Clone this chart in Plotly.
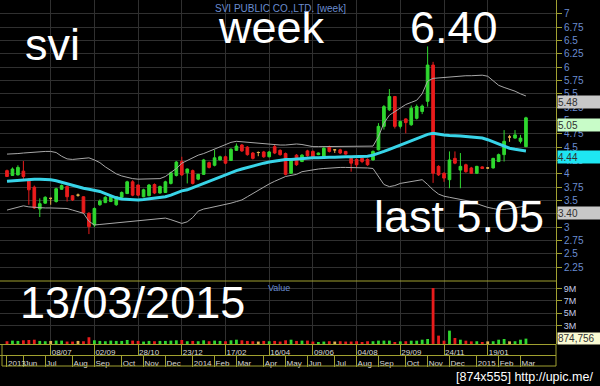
import plotly.graph_objects as go
import pandas as pd

# ---------------- data ----------------
open_ = [4.06,3.97,3.98,4.05,3.90,3.75,3.34,3.45,3.54,3.48,
         3.71,3.76,3.59,3.60,3.57,3.26,3.04,3.42,3.46,3.48,
         3.42,3.56,3.63,3.85,3.79,3.57,3.59,3.80,3.64,3.65,
         3.82,3.97,4.23,4.02,4.06,3.90,3.99,4.21,4.16,4.26,
         4.32,4.25,4.44,4.54,4.50,4.39,4.40,4.41,4.32,4.51,
         4.44,4.38,4.01,4.35,4.23,4.43,4.42,4.36,4.33,4.51,
         4.45,4.45,4.42,4.29,4.27,4.29,4.27,4.26,4.45,4.89,
         5.20,5.45,4.89,5.03,4.92,5.04,5.17,5.36,6.04,4.14,
         4.01,3.89,4.29,4.07,4.17,4.11,4.01,4.13,4.11,4.11,
         4.23,4.36,4.69,4.67,4.61,4.51]
high = [4.08,4.12,4.16,4.24,3.92,3.78,3.54,3.58,3.55,3.74,
        3.80,3.78,3.60,3.63,3.58,3.28,3.37,3.52,3.58,3.60,
        3.58,3.67,3.87,3.88,3.80,3.72,3.81,3.82,3.78,3.87,
        4.04,4.24,4.32,4.10,4.08,4.00,4.28,4.23,4.45,4.34,
        4.34,4.48,4.57,4.56,4.52,4.41,4.42,4.43,4.43,4.55,
        4.46,4.40,4.29,4.37,4.37,4.45,4.44,4.40,4.50,4.53,
        4.46,4.47,4.43,4.31,4.29,4.31,4.29,4.44,4.95,5.29,
        5.59,5.46,5.00,5.04,5.28,5.30,5.30,6.39,6.10,4.16,
        4.03,4.42,4.42,4.39,4.19,4.13,4.15,4.14,4.12,4.30,
        4.38,4.82,4.73,4.82,4.73,5.07]
low = [3.94,3.96,3.97,3.88,3.42,3.34,3.19,3.44,3.42,3.46,
       3.70,3.48,3.49,3.57,3.25,2.87,3.00,3.40,3.45,3.47,
       3.40,3.55,3.62,3.58,3.58,3.56,3.58,3.62,3.63,3.64,
       3.80,3.95,3.96,3.82,3.80,3.88,3.98,4.10,4.14,4.25,
       4.18,4.24,4.43,4.41,4.34,4.27,4.33,4.30,4.31,4.37,
       4.34,3.97,4.00,4.15,4.22,4.32,4.30,4.35,4.32,4.40,
       4.39,4.37,4.36,4.04,4.12,4.20,4.15,4.25,4.44,4.83,
       5.18,4.85,4.85,4.76,4.90,5.02,5.12,5.26,3.83,3.96,
       3.85,3.73,4.18,3.73,4.02,4.00,4.00,4.09,4.09,4.10,
       4.22,4.23,4.60,4.66,4.57,4.50]
close = [3.95,4.09,4.12,3.95,3.70,3.36,3.44,3.56,3.54,3.72,
         3.78,3.57,3.51,3.60,3.27,3.01,3.35,3.49,3.56,3.57,
         3.57,3.65,3.85,3.60,3.60,3.70,3.79,3.64,3.76,3.85,
         4.02,4.22,3.98,4.09,3.82,3.99,4.26,4.12,4.30,4.32,
         4.20,4.46,4.52,4.43,4.36,4.29,4.40,4.32,4.41,4.39,
         4.36,3.99,4.27,4.17,4.35,4.34,4.32,4.39,4.48,4.42,
         4.45,4.39,4.37,4.20,4.17,4.23,4.17,4.42,4.89,5.26,
         5.45,4.89,4.98,4.96,5.23,5.26,5.27,6.04,4.01,3.98,
         3.92,4.26,4.20,4.14,4.04,4.01,4.14,4.10,4.11,4.29,
         4.36,4.61,4.69,4.73,4.67,5.05]
ma_line = [3.86,3.87,3.88,3.89,3.89,3.90,3.90,3.90,3.89,3.87,
           3.84,3.81,3.78,3.76,3.73,3.71,3.69,3.67,3.63,3.59,
           3.55,3.53,3.52,3.51,3.51,3.52,3.53,3.54,3.56,3.57,
           3.60,3.64,3.68,3.70,3.74,3.78,3.82,3.87,3.90,3.94,
           3.98,4.02,4.06,4.09,4.12,4.15,4.18,4.20,4.22,4.24,
           4.26,4.27,4.27,4.28,4.29,4.29,4.30,4.30,4.31,4.31,
           4.31,4.32,4.32,4.32,4.32,4.32,4.33,4.35,4.38,4.42,
           4.46,4.50,4.53,4.57,4.61,4.65,4.69,4.74,4.76,4.74,
           4.73,4.72,4.72,4.71,4.70,4.69,4.68,4.67,4.64,4.60,
           4.56,4.51,4.48,4.46,4.44,4.43]
upper_band = [4.37,4.37,4.38,4.39,4.40,4.41,4.41,4.42,4.42,4.40,
              4.33,4.28,4.27,4.28,4.30,4.30,4.26,4.21,4.13,4.06,
              4.00,3.96,3.93,3.91,3.90,3.90,3.90,3.90,3.91,3.95,
              4.03,4.10,4.20,4.25,4.30,4.35,4.38,4.42,4.46,4.50,
              4.55,4.59,4.61,4.60,4.59,4.58,4.57,4.57,4.56,4.55,
              4.54,4.54,4.55,4.56,4.55,4.53,4.51,4.51,4.51,4.51,
              4.51,4.51,4.51,4.51,4.51,4.51,4.51,4.52,4.70,4.95,
              5.10,5.17,5.23,5.30,5.34,5.38,5.50,5.74,5.79,5.80,
              5.81,5.82,5.83,5.83,5.84,5.84,5.85,5.85,5.83,5.75,
              5.66,5.62,5.59,5.55,5.50,5.46]
lower_band = [3.32,3.35,3.37,3.40,3.38,3.37,3.36,3.36,3.36,3.36,
              3.36,3.35,3.32,3.29,3.26,3.11,3.04,3.05,3.06,3.07,
              3.07,3.08,3.10,3.11,3.12,3.13,3.14,3.15,3.16,3.17,
              3.14,3.10,3.07,3.10,3.18,3.30,3.34,3.36,3.38,3.40,
              3.42,3.45,3.48,3.51,3.57,3.63,3.69,3.76,3.81,3.86,
              3.91,3.95,3.97,3.99,4.04,4.06,4.08,4.09,4.10,4.11,
              4.12,4.12,4.12,4.12,4.12,4.12,4.11,4.10,3.95,3.80,
              3.76,3.78,3.82,3.84,3.86,3.88,3.89,3.80,3.70,3.62,
              3.58,3.56,3.54,3.52,3.51,3.48,3.44,3.40,3.37,3.35,
              3.33,3.33,3.34,3.36,3.38,3.40]
volume_m = [0.45,0.55,0.50,0.60,0.65,0.70,0.50,0.45,0.50,0.55,
            0.55,0.40,0.40,0.50,0.45,1.10,0.60,0.50,0.45,0.55,
            0.50,0.50,0.65,0.55,0.50,0.40,0.50,0.45,0.50,0.50,
            0.55,0.60,0.65,0.45,0.50,0.45,0.60,0.45,0.55,0.50,
            0.45,0.60,0.70,0.60,0.50,0.45,0.40,0.50,0.45,0.50,
            0.40,0.60,0.70,0.50,0.55,0.55,0.40,0.33,0.40,0.45,
            0.40,0.45,0.40,0.40,0.45,0.33,0.45,0.45,0.55,0.55,
            0.55,0.33,0.43,0.45,0.54,0.54,0.70,0.81,9.10,1.36,
            0.54,2.17,0.98,0.70,0.54,0.43,0.45,0.33,0.43,0.45,
            0.70,0.81,0.43,0.45,0.70,0.874756]

first_week = "2013-05-13"
price_ticks = [2.25,2.5,2.75,3,3.25,3.5,3.75,4,4.25,4.5,4.75,5,5.25,5.5,5.75,6,6.25,6.5,6.75,7]
price_tick_labels = ["2.25","2.5","2.75","3","3.25","3.5","3.75","4","4.25","4.5","4.75",
                     "5","5.25","5.5","5.75","6","6.25","6.5","6.75","7"]
vol_ticks = [3, 5, 7, 9]
vol_tick_labels = ["3M", "5M", "7M", "9M"]
date_ticks = ["2013-07-08","2013-09-02","2013-10-28","2013-12-23","2014-02-17","2014-04-14",
              "2014-06-09","2014-08-04","2014-09-29","2014-11-24","2015-01-19"]
date_tick_labels = ["08/07","02/09","28/10","23/12","17/02","16/04","09/06","04/08","29/09","24/11","19/01"]
month_ticks = ["2013-05-13","2013-06-03","2013-07-01","2013-08-05","2013-09-02","2013-10-07",
               "2013-11-04","2013-12-02","2014-01-06","2014-02-03","2014-03-03","2014-04-07",
               "2014-05-05","2014-06-02","2014-07-07","2014-08-04","2014-09-01","2014-10-06",
               "2014-11-03","2014-12-01","2015-01-05","2015-02-02","2015-03-02"]
month_tick_labels = ["2013","Jun","Jul","Aug","Sep","Oct","Nov","Dec","2014","Feb","Mar","Apr",
                     "May","Jun","Jul","Aug","Sep","Oct","Nov","Dec","2015","Feb","Mar"]
level_labels = [(5.48, "5.48", "#c8c8c8"), (5.05, "5.05", "#c8fcc8"),
                (4.44, "4.44", "#1ee6f2"), (3.40, "3.40", "#c8c8c8")]
last_volume_label = "874,756"

# ---------------- styling ----------------
W, H = 600, 386
GREEN, RED, YELLOW = "#2fd82f", "#e81c1c", "#e0b050"
AXIS = "#a0a030"
GRID = "#303030"
BLUE = "#6a8cd0"
FONT = "Liberation Sans, Arial, sans-serif"

def fx(p):
    return p / W

def fy(p):
    return 1 - p / H

dates = pd.date_range(first_week, periods=len(close), freq="7D")
n = len(close)
x_range = [dates[0] - pd.Timedelta(days=7 * 1.28), dates[0] + pd.Timedelta(days=7 * 100.5)]
DOMX = [0, fx(556)]

fig = go.Figure()

groups = [
    ([i for i in range(n) if close[i] > open_[i]], GREEN),
    ([i for i in range(n) if close[i] < open_[i]], RED),
    ([i for i in range(n) if close[i] == open_[i]], YELLOW),
]
for idx, col in groups:
    fig.add_trace(go.Candlestick(
        x=[dates[i] for i in idx],
        open=[open_[i] for i in idx], high=[high[i] for i in idx],
        low=[low[i] for i in idx], close=[close[i] for i in idx],
        increasing=dict(line=dict(color=col, width=1), fillcolor=col),
        decreasing=dict(line=dict(color=col, width=1), fillcolor=col),
        whiskerwidth=0, xaxis="x", yaxis="y", showlegend=False, hoverinfo="skip"))

for band in (upper_band, lower_band):
    fig.add_trace(go.Scatter(x=dates, y=band, mode="lines", line=dict(color="#a8a8a8", width=1),
                             xaxis="x", yaxis="y", showlegend=False, hoverinfo="skip"))
fig.add_trace(go.Scatter(x=dates, y=ma_line, mode="lines", line=dict(color="#38d4e8", width=3),
                         xaxis="x", yaxis="y", showlegend=False, hoverinfo="skip"))

vol_colors = [GREEN if close[i] > open_[i] else RED if close[i] < open_[i] else YELLOW for i in range(n)]
fig.add_trace(go.Bar(x=dates, y=volume_m, marker=dict(color=vol_colors, line=dict(width=0)),
                     width=3.6 * 86400000, xaxis="x2", yaxis="y2", showlegend=False, hoverinfo="skip"))

tickfont_x = dict(size=8, color="#d8d8d8", family=FONT)

fig.update_layout(
    width=W, height=H, margin=dict(l=0, r=0, t=0, b=0),
    paper_bgcolor="black", plot_bgcolor="black", showlegend=False, hovermode=False,
    # price x axis: drawn as the first date row below the volume pane
    xaxis=dict(domain=DOMX, anchor="free", position=fy(344), side="bottom", type="date",
               range=x_range, rangeslider=dict(visible=False),
               tickmode="array", tickvals=date_ticks, ticktext=date_tick_labels, tickangle=0,
               ticks="outside", ticklen=11, tickcolor=AXIS, tickwidth=1,
               ticklabelposition="outside right",
               showgrid=True, gridcolor=GRID, gridwidth=1, zeroline=False,
               showline=True, linecolor=AXIS, linewidth=1, tickfont=tickfont_x),
    yaxis=dict(domain=[fy(281), 1], anchor="x", range=[1.99, 7.26], side="right",
               tickmode="array", tickvals=price_ticks, ticktext=price_tick_labels,
               ticks="outside", ticklen=5, tickcolor=AXIS, tickwidth=1,
               showline=True, linecolor=AXIS, linewidth=1,
               showgrid=True, gridcolor=GRID, gridwidth=1, zeroline=False,
               tickfont=dict(size=10, color=BLUE, family=FONT)),
    # volume x axis: drawn as the month row
    xaxis2=dict(domain=DOMX, anchor="free", position=fy(355), side="bottom", type="date",
                range=x_range, tickmode="array", tickvals=month_ticks, ticktext=month_tick_labels,
                tickangle=0,
                ticks="outside", ticklen=11, tickcolor=AXIS, tickwidth=1,
                ticklabelposition="outside right",
                showgrid=False, zeroline=False,
                minor=dict(tickmode="array", tickvals=date_ticks, ticks="", showgrid=True,
                           gridcolor=GRID, gridwidth=1),
                showline=True, linecolor=AXIS, linewidth=1, tickfont=tickfont_x),
    yaxis2=dict(domain=[fy(344), fy(281)], anchor="x2", range=[0, 10.25], side="right",
                tickmode="array", tickvals=vol_ticks, ticktext=vol_tick_labels,
                ticks="outside", ticklen=5, tickcolor=AXIS, tickwidth=1,
                showline=True, linecolor=AXIS, linewidth=1,
                showgrid=True, gridcolor=GRID, zeroline=False,
                tickfont=dict(size=9, color="#c4cbe8", family=FONT)),
)

line_style = dict(color=AXIS, width=1)
shapes = [
    dict(type="line", xref="paper", yref="paper", x0=0, x1=fx(556), y0=fy(281), y1=fy(281), line=line_style),
    dict(type="line", xref="paper", yref="paper", x0=fx(2), x1=fx(556), y0=fy(366), y1=fy(366), line=line_style),
    dict(type="line", xref="paper", yref="paper", x0=fx(2), x1=fx(2), y0=fy(344), y1=fy(366), line=line_style),
    dict(type="line", xref="paper", yref="paper", x0=fx(556), x1=fx(556), y0=fy(344), y1=fy(366), line=line_style),
]
fig.update_layout(shapes=shapes)

ann = []
big = dict(size=45, color="white", family=FONT)
for text, left, cy in [("svi", 23, 45), ("week", 216, 27), ("6.40", 408, 27),
                       ("last 5.05", 372, 216), ("13/03/2015", 18, 302)]:
    ann.append(dict(text=text, xref="paper", yref="paper", x=fx(left), y=fy(cy),
                    xanchor="left", yanchor="middle", showarrow=False, font=big))
ann.append(dict(text="SVI PUBLIC CO.,LTD. [week]", xref="paper", yref="paper", x=fx(213), y=fy(8.5),
                xanchor="left", yanchor="middle", showarrow=False,
                font=dict(size=10, color=BLUE, family=FONT)))
ann.append(dict(text="Value", xref="paper", yref="paper", x=fx(266), y=fy(287.5),
                xanchor="left", yanchor="middle", showarrow=False,
                font=dict(size=9, color=BLUE, family=FONT)))
ann.append(dict(text="[874x555] http://upic.me/", xref="paper", yref="paper", x=fx(454), y=fy(377),
                xanchor="left", yanchor="middle", showarrow=False,
                font=dict(size=12.5, color="white", family=FONT)))
for val, txt, bg in level_labels:
    ann.append(dict(text=txt, xref="paper", yref="y", x=fx(557), y=val, xanchor="left", yanchor="top",
                    showarrow=False, bgcolor=bg, width=43, height=12, align="left", borderpad=0,
                    font=dict(size=10, color="#303030", family=FONT)))
ann.append(dict(text=last_volume_label, xref="paper", yref="y2", x=fx(557), y=volume_m[-1],
                xanchor="left", yanchor="middle", showarrow=False, bgcolor="#fafad2", width=43, height=11,
                align="left", borderpad=0, font=dict(size=10, color="#303030", family=FONT)))
fig.update_layout(annotations=ann)

fig.write_html("out.html")
